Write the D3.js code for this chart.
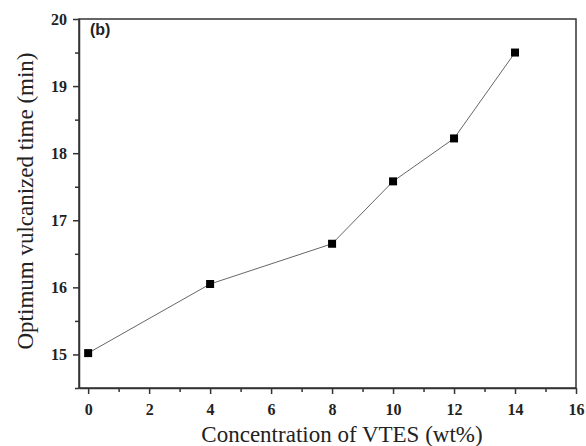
<!DOCTYPE html>
<html>
<head>
<meta charset="utf-8">
<script src="https://cdn.jsdelivr.net/npm/d3@7"></script>
<style>
body { margin: 0; background: #fff; }
</style>
</head>
<body>
<div id="chart"></div>
<script>
// data
var vtes = [0, 4, 8, 10, 12, 14]
var cureTime = [15.02, 16.05, 16.65, 17.58, 18.22, 19.5]
var xTicks = [0, 2, 4, 6, 8, 10, 12, 14, 16]
var yTicks = [15, 16, 17, 18, 19, 20]

var serif = "Liberation Serif"

var margin = { top: 19, right: 10, bottom: 58, left: 79 },
    width = 586 - margin.left - margin.right,
    height = 446 - margin.top - margin.bottom;

var svg = d3.select("#chart")
    .append("svg")
    .attr("width", 586)
    .attr("height", 446)
    .append("g")
    .attr("transform", "translate(" + margin.left + "," + margin.top + ")");

var x = d3.scaleLinear().domain([-0.3, 16]).range([0, width])
var y = d3.scaleLinear().domain([14.5, 20]).range([height, 0])

// frame
svg.append("rect")
    .attr("width", width)
    .attr("height", height)
    .attr("fill", "none")
    .attr("stroke", "#333")
    .attr("stroke-width", 1.5)

// minor ticks
var xMinor = [1, 3, 5, 7, 9, 11, 13, 15]
var yMinor = [14.5, 15.5, 16.5, 17.5, 18.5, 19.5]

svg.append("g")
    .attr("transform", "translate(0," + height + ")")
    .call(d3.axisBottom(x).tickValues(xMinor).tickSize(4).tickFormat(""))
    .call(g => g.select(".domain").remove())

svg.append("g")
    .call(d3.axisLeft(y).tickValues(yMinor).tickSize(4).tickFormat(""))
    .call(g => g.select(".domain").remove())

// major axes
function styleAxis(g) {
    g.attr("font-family", serif)
        .attr("font-size", 16)
        .attr("font-weight", "bold")
    g.selectAll("text").attr("fill", "#222")
}

svg.append("g")
    .attr("transform", "translate(0," + height + ")")
    .call(d3.axisBottom(x).tickValues(xTicks).tickFormat(d3.format("d"))
        .tickSize(6).tickPadding(10).tickSizeOuter(0))
    .call(styleAxis)

svg.append("g")
    .call(d3.axisLeft(y).tickValues(yTicks).tickFormat(d3.format("d"))
        .tickSize(6).tickPadding(6).tickSizeOuter(0))
    .call(styleAxis)

svg.selectAll(".tick line").attr("stroke", "#333").attr("stroke-width", 1.5)
svg.selectAll(".domain").attr("stroke", "#333").attr("stroke-width", 1.5)

// line and markers
var line = d3.line()
    .x(function(d, i) { return x(vtes[i]) })
    .y(function(d) { return y(d) })

svg.append("path")
    .datum(cureTime)
    .attr("d", line)
    .attr("fill", "none")
    .attr("stroke", "#666")
    .attr("stroke-width", 1)

svg.selectAll("rect.pt")
    .data(cureTime)
    .enter()
    .append("rect")
    .attr("class", "pt")
    .attr("x", function(d, i) { return x(vtes[i]) - 4 })
    .attr("y", function(d) { return y(d) - 4 })
    .attr("width", 8)
    .attr("height", 8)
    .attr("fill", "#000")

// panel label
svg.append("text")
    .attr("x", 11)
    .attr("y", 16)
    .attr("font-family", "Liberation Sans")
    .attr("font-weight", "bold")
    .attr("font-size", 16)
    .attr("fill", "#222")
    .text("(b)")

// axis titles
svg.append("text")
    .attr("x", 263)
    .attr("y", height + 54)
    .attr("text-anchor", "middle")
    .attr("font-family", serif)
    .attr("font-size", 23)
    .attr("fill", "#222")
    .text("Concentration of VTES (wt%)")

svg.append("text")
    .attr("transform", "translate(" + (-46) + "," + 182 + ") rotate(-90)")
    .attr("text-anchor", "middle")
    .attr("font-family", serif)
    .attr("font-size", 23)
    .attr("fill", "#222")
    .text("Optimum vulcanized time (min)")
</script>
</body>
</html>
